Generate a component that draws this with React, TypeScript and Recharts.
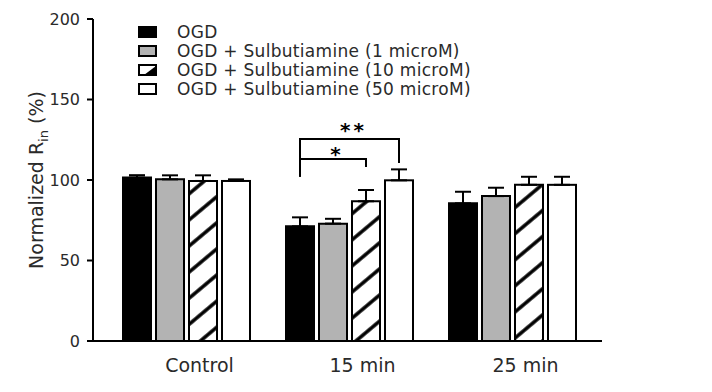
import React from "react";
import { BarChart, Bar, XAxis, YAxis, ErrorBar, Legend } from "recharts";

const groups = ["Control", "15 min", "25 min"];
const ogd = [101.5, 71.2, 85.5];
const ogdErr = [1.5, 5.6, 7.2];
const sulb1 = [100.4, 72.9, 90];
const sulb1Err = [2.5, 3, 5.2];
const sulb10 = [99.4, 86.8, 97];
const sulb10Err = [3.5, 7, 5];
const sulb50 = [99.4, 99.8, 97];
const sulb50Err = [1, 6.8, 5];
const yTicks = [0, 50, 100, 150, 200];
const seriesNames = [
  "OGD",
  "OGD + Sulbutiamine (1 microM)",
  "OGD + Sulbutiamine (10 microM)",
  "OGD + Sulbutiamine (50 microM)",
];
// significance brackets in the 15 min group: bar index from/to, bracket level, leg ends (%)
const brackets = [
  { from: 0, to: 2, level: 113, leftEnd: 102, rightEnd: 108, mark: "*" },
  { from: 0, to: 3, level: 125.5, leftEnd: 102, rightEnd: 110.6, mark: "**" },
];

const FONT = "'DejaVu Sans', 'Liberation Sans', sans-serif";
const TEXT = "#2a2a2a";
const BAR_SIZE = 28;
const BAR_GAP = 5;

const data = groups.map((g, i) => ({
  group: g,
  ogd: ogd[i],
  ogdErr: [0, ogdErr[i]],
  sulb1: sulb1[i],
  sulb1Err: [0, sulb1Err[i]],
  sulb10: sulb10[i],
  sulb10Err: [0, sulb10Err[i]],
  sulb50: sulb50[i],
  sulb50Err: [0, sulb50Err[i]],
}));

// last bar of the 15 min group also carries the significance brackets
function WhiteBar(props: any) {
  const { x, y, width, height, index, payload, value } = props;
  const rect = <rect x={x} y={y} width={width} height={height} fill="#fff" stroke="#000" strokeWidth={2} />;
  if (index !== 1) return rect;
  const v = payload?.sulb50 ?? (Array.isArray(value) ? value[1] : value);
  const base = y + height;
  const k = height / v;
  const py = (val: number) => base - val * k;
  const step = width + BAR_GAP;
  const cx = (i: number) => x + width / 2 - (3 - i) * step;
  return (
    <g>
      {rect}
      {brackets.map((b) => {
        // star centre sits a little above its bracket line
        const starMid = py(b.level) - (b.mark.length > 1 ? 14 : 10);
        return (
          <g key={b.mark}>
            <path
              d={`M${cx(b.from)},${py(b.leftEnd)} V${py(b.level)} H${cx(b.to)} V${py(b.rightEnd)}`}
              fill="none"
              stroke="#000"
              strokeWidth={2}
            />
            <text
              x={(cx(b.from) + cx(b.to)) / 2 + 4}
              y={starMid + 11.6}
              textAnchor="middle"
              fontSize={20}
              fontWeight="bold"
              fontFamily={FONT}
              letterSpacing={3}
              fill="#000"
            >
              {b.mark}
            </text>
          </g>
        );
      })}
    </g>
  );
}

function XTick({ x, y, payload }: any) {
  return (
    <text x={x + 13} y={y} dy={31} textAnchor="middle" fontSize={19} fontFamily={FONT} fill={TEXT}>
      {payload.value}
    </text>
  );
}

function YLabel({ viewBox }: any) {
  const cy = viewBox ? viewBox.y + viewBox.height / 2 : 180;
  return (
    <text
      transform={`translate(43, ${cy}) rotate(-90)`}
      textAnchor="middle"
      fontSize={19}
      fontFamily={FONT}
      fill={TEXT}
    >
      <tspan>Normalized R</tspan>
      <tspan fontSize={13} dy={5}>in</tspan>
      <tspan dy={-5}> (%)</tspan>
    </text>
  );
}

function Swatch({ i, y }: { i: number; y: number }) {
  const x = 9;
  const w = 17;
  const h = 10;
  const fills = ["#000", "#b3b3b3", "#fff", "#fff"];
  return (
    <g>
      <rect x={x} y={y - h / 2} width={w} height={h} fill={fills[i]} stroke="#000" strokeWidth={2} />
      {i === 2 && (
        <polygon points={`${x + 5},${y + h / 2} ${x + w},${y - h / 2 + 1} ${x + w},${y + h / 2}`} fill="#000" />
      )}
    </g>
  );
}

function LegendBox() {
  return (
    <svg width={360} height={90}>
      {seriesNames.map((n, i) => {
        const cy = 12 + i * 19;
        return (
          <g key={n}>
            <Swatch i={i} y={cy} />
            <text x={47} y={cy} dy="0.36em" fontSize={17} letterSpacing={0.3} fontFamily={FONT} fill={TEXT}>
              {n}
            </text>
          </g>
        );
      })}
    </svg>
  );
}

export default function App() {
  return (
    <div style={{ position: "absolute", left: 0, top: 0, width: 712, height: 392, background: "#fff" }}>
      <BarChart
        width={712}
        height={392}
        data={data}
        margin={{ top: 19, right: 110, bottom: 11, left: 0 }}
        barSize={BAR_SIZE}
        barGap={BAR_GAP}
      >
        <defs>
          <pattern id="hatch" patternUnits="userSpaceOnUse" width={20} height={20} patternTransform="rotate(50)">
            <rect width={20} height={20} fill="#fff" />
            <line x1={10} y1={0} x2={10} y2={20} stroke="#000" strokeWidth={3.5} />
          </pattern>
        </defs>
        <XAxis
          dataKey="group"
          axisLine={{ stroke: "#000", strokeWidth: 2 }}
          tickLine={false}
          tickSize={0}
          tickMargin={0}
          height={40}
          padding={{ left: 12, right: 8 }}
          tick={<XTick />}
          interval={0}
        />
        <YAxis
          width={93}
          domain={[0, 200]}
          ticks={yTicks}
          interval={0}
          axisLine={{ stroke: "#000", strokeWidth: 2 }}
          tickLine={{ stroke: "#000", strokeWidth: 2 }}
          tickSize={6}
          tickMargin={7}
          tick={{ fontSize: 16, fontFamily: FONT, fill: TEXT }}
          label={YLabel}
        />
        <Legend
          layout="horizontal"
          verticalAlign="middle"
          align="center"
          wrapperStyle={{ top: 20, left: 130, width: 360, height: 90 }}
          content={() => <LegendBox />}
        />
        <Bar dataKey="ogd" fill="#000" stroke="#000" strokeWidth={2} isAnimationActive={false}>
          <ErrorBar dataKey="ogdErr" width={8} stroke="#000" strokeWidth={2} />
        </Bar>
        <Bar dataKey="sulb1" fill="#b3b3b3" stroke="#000" strokeWidth={2} isAnimationActive={false}>
          <ErrorBar dataKey="sulb1Err" width={8} stroke="#000" strokeWidth={2} />
        </Bar>
        <Bar dataKey="sulb10" fill="url(#hatch)" stroke="#000" strokeWidth={2} isAnimationActive={false}>
          <ErrorBar dataKey="sulb10Err" width={8} stroke="#000" strokeWidth={2} />
        </Bar>
        <Bar dataKey="sulb50" fill="#fff" stroke="#000" strokeWidth={2} shape={WhiteBar} isAnimationActive={false}>
          <ErrorBar dataKey="sulb50Err" width={8} stroke="#000" strokeWidth={2} />
        </Bar>
      </BarChart>
    </div>
  );
}
